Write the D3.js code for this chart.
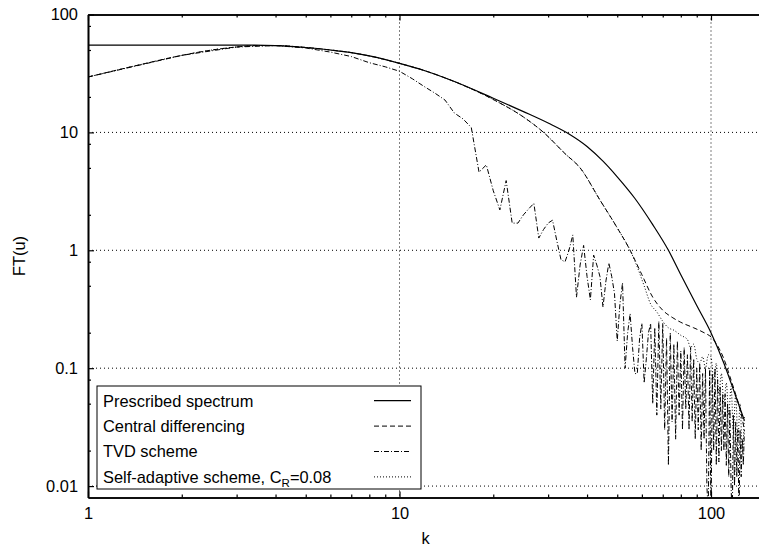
<!DOCTYPE html>
<html>
<head>
<meta charset="utf-8">
<script src="https://cdn.jsdelivr.net/npm/d3@7"></script>
<style>
body { margin: 0; background: #fff; }
svg { font-family: "Liberation Sans", Arial, sans-serif; }
</style>
</head>
<body>
<div id="chart"></div>
<script>
// Prescribed spectrum
var kPres = [1, 3.3, 4, 5, 6, 7, 8, 10, 12, 15, 20, 25, 30, 35, 40, 45, 50, 57, 65, 73, 80, 90, 100, 110, 120, 128];
var fPres = [55, 55, 54.5, 52.5, 50, 47.5, 44.5, 38.5, 33.5, 27, 19.5, 15, 12, 9.7, 7.6, 5.7, 4.2, 2.75, 1.65, 1.0, 0.62, 0.34, 0.2, 0.11, 0.058, 0.036];

// Central differencing
var kCent = [1, 1.5, 2, 2.5, 3, 3.5, 4, 5, 6, 7, 8, 10, 12, 15, 20, 25, 29, 34, 38, 44, 50, 55, 60, 65, 70, 75, 80, 88, 95, 100, 105, 110, 115, 120, 124, 128];
var fCent = [29.5, 38, 45, 50, 53, 54.5, 54.5, 52.5, 50, 47.5, 44.5, 38.5, 33.5, 27, 19, 13.5, 10, 6.6, 5.0, 2.67, 1.55, 1.0, 0.62, 0.40, 0.31, 0.27, 0.245, 0.22, 0.2, 0.184, 0.155, 0.12, 0.085, 0.06, 0.045, 0.03];

// TVD scheme, k = 1..128
var fTvd = [29.5, 45, 53, 54.5, 52, 48, 44, 39, 36, 33,
  28.5, 24.5, 21.5, 18.8, 14.6, 13, 11, 4.6, 5.3, 3.2,
  2.2, 3.9, 1.7, 1.7, 2.0, 2.25, 2.5, 1.27, 1.5, 1.7,
  1.8, 1.2, 0.83, 0.8, 1.0, 1.35, 0.4, 0.75, 1.1, 0.6,
  0.38, 0.91, 0.75, 0.6, 0.33, 0.55, 0.78, 0.6, 0.43, 0.17,
  0.35, 0.53, 0.1, 0.2, 0.29, 0.15, 0.09, 0.09, 0.18, 0.24,
  0.075, 0.12, 0.2, 0.24, 0.05, 0.22, 0.04, 0.25, 0.045, 0.24,
  0.03, 0.18, 0.015, 0.2, 0.035, 0.16, 0.025, 0.17, 0.04, 0.14,
  0.03, 0.15, 0.045, 0.13, 0.03, 0.15, 0.035, 0.12, 0.025, 0.1,
  0.03, 0.11, 0.02, 0.09, 0.025, 0.1, 0.01, 0.006, 0.1, 0.005,
  0.09, 0.02, 0.1, 0.015, 0.08, 0.016, 0.07, 0.02, 0.06, 0.02,
  0.06, 0.015, 0.05, 0.012, 0.045, 0.01, 0.005, 0.04, 0.01, 0.035,
  0.012, 0.03, 0.005, 0.03, 0.012, 0.025, 0.015, 0.03];

// Self-adaptive scheme
var kSelf = [1, 1.5, 2, 2.5, 3, 3.5, 4, 5, 6, 7, 8, 10, 12, 15, 20, 25, 29, 34, 38, 44, 50, 55, 58, 61, 64, 67, 70, 73, 76, 80, 84, 86, 88, 90, 92, 94, 96, 98, 100,
  102, 104, 106, 108, 110, 112, 114, 116, 118, 120, 122, 124, 126, 128];
var fSelf = [29.5, 38, 45, 50, 53, 54.5, 54.5, 52.5, 50, 47.5, 44.5, 38.5, 33.5, 27, 19, 13.5, 10, 6.6, 5.0, 2.67, 1.55, 1.0, 0.72, 0.5, 0.35, 0.3, 0.25, 0.22, 0.21, 0.19, 0.175, 0.15, 0.16, 0.12, 0.11, 0.125, 0.1, 0.13, 0.125,
  0.08, 0.11, 0.06, 0.09, 0.05, 0.075, 0.04, 0.07, 0.03, 0.06, 0.025, 0.05, 0.02, 0.04];

var seriesNames = ["Prescribed spectrum", "Central differencing", "TVD scheme", "Self-adaptive scheme, C"];
var xMajor = [1, 10, 100];
var xMinor = [2, 3, 4, 5, 6, 7, 8, 9, 20, 30, 40, 50, 60, 70, 80, 90];
var yMajor = [0.01, 0.1, 1, 10, 100];
var yMinor = [0.02, 0.05, 0.08, 0.2, 0.5, 0.8, 2, 5, 8, 20, 50, 80];
var xGrid = [10, 100];
var yGrid = [0.01, 0.1, 1, 10];

var W = 759, H = 546;
var mLeft = 88, mTop = 14.5, mBottom = 497.5;
var decade = 311.5;
var fontSize = "16.4px";

var svg = d3.select("#chart").append("svg")
  .attr("width", W)
  .attr("height", H);

var x = d3.scaleLog().domain([1, 145]).range([mLeft, mLeft + decade * Math.log10(145)]);
var y = d3.scaleLog().domain([0.008, 100]).range([mBottom, mTop]);

svg.append("defs").append("clipPath").attr("id", "clip")
  .append("rect")
  .attr("x", mLeft).attr("y", mTop)
  .attr("width", W - mLeft).attr("height", mBottom - mTop);

// grid
svg.selectAll(".gx").data(xGrid).enter().append("line")
  .attr("x1", function(d) { return x(d); }).attr("x2", function(d) { return x(d); })
  .attr("y1", mTop).attr("y2", mBottom)
  .attr("stroke", "#000").attr("stroke-width", 1).attr("stroke-dasharray", "1,3");
svg.selectAll(".gy").data(yGrid).enter().append("line")
  .attr("x1", mLeft).attr("x2", W)
  .attr("y1", function(d) { return y(d); }).attr("y2", function(d) { return y(d); })
  .attr("stroke", "#000").attr("stroke-width", 1).attr("stroke-dasharray", "1,3");

// lines
var line = d3.line()
  .x(function(d) { return x(d[0]); })
  .y(function(d) { return y(d[1]); });

var presData = kPres.map(function(k, i) { return [k, fPres[i]]; });
var centData = kCent.map(function(k, i) { return [k, fCent[i]]; });
var tvdData = fTvd.map(function(v, i) { return [i + 1, v]; });
var selfData = kSelf.map(function(k, i) { return [k, fSelf[i]]; });

var plot = svg.append("g").attr("clip-path", "url(#clip)");
var styles = [
  { data: presData, dash: null, curve: d3.curveMonotoneX, w: 1.2 },
  { data: centData, dash: "5,3", curve: d3.curveMonotoneX, w: 1 },
  { data: tvdData, dash: "5,2,1,2", curve: d3.curveLinear, w: 1 },
  { data: selfData, dash: "1,2", curve: d3.curveMonotoneX, w: 1 }
];
styles.forEach(function(s) {
  plot.append("path")
    .attr("d", line.curve(s.curve)(s.data))
    .attr("fill", "none")
    .attr("stroke", "#000")
    .attr("stroke-width", s.w)
    .attr("stroke-dasharray", s.dash);
});

// axes
function styleAxis(g) {
  g.select(".domain").attr("stroke-width", 1.6);
  g.selectAll(".tick line").attr("stroke-width", 1.2);
  g.selectAll("text").attr("font-size", fontSize).attr("font-family", "Liberation Sans, Arial, sans-serif").attr("fill", "#000");
}
svg.append("g").attr("transform", "translate(" + mLeft + ",0)")
  .call(d3.axisLeft(y).tickValues(yMajor).tickSizeInner(-6).tickSizeOuter(0).tickPadding(10)
    .tickFormat(function(d) { return d3.format("~g")(d); }))
  .call(styleAxis);
svg.append("g").attr("transform", "translate(" + mLeft + ",0)")
  .call(d3.axisLeft(y).tickValues(yMinor).tickSizeInner(-3).tickSizeOuter(0).tickFormat(""))
  .call(styleAxis);
svg.append("g").attr("transform", "translate(0," + mBottom + ")")
  .call(d3.axisBottom(x).tickValues(xMajor).tickSizeInner(-6).tickSizeOuter(0).tickPadding(10)
    .tickFormat(function(d) { return d3.format("~g")(d); }))
  .call(styleAxis);
svg.append("g").attr("transform", "translate(0," + mBottom + ")")
  .call(d3.axisBottom(x).tickValues(xMinor).tickSizeInner(-3).tickSizeOuter(0).tickFormat(""))
  .call(styleAxis);
svg.append("g").attr("transform", "translate(0," + mTop + ")")
  .call(d3.axisTop(x).tickValues(xMajor).tickSizeInner(-6).tickSizeOuter(0).tickFormat(""))
  .call(styleAxis);
svg.append("g").attr("transform", "translate(0," + mTop + ")")
  .call(d3.axisTop(x).tickValues(xMinor).tickSizeInner(-3).tickSizeOuter(0).tickFormat(""))
  .call(styleAxis);

// axis titles
svg.append("text")
  .attr("x", (mLeft + W) / 2 + 2).attr("y", 544)
  .attr("text-anchor", "middle").attr("font-size", fontSize)
  .text("k");
svg.append("text")
  .attr("transform", "translate(25," + ((mTop + mBottom) / 2) + ") rotate(-90)")
  .attr("text-anchor", "middle").attr("font-size", fontSize)
  .text("FT(u)");

// legend
var lg = svg.append("g");
lg.append("rect")
  .attr("x", 97).attr("y", 386).attr("width", 324).attr("height", 103)
  .attr("fill", "#fff").attr("stroke", "#000").attr("stroke-width", 1);
seriesNames.forEach(function(name, i) {
  var cy = 400.7 + i * 25.4;
  var t = lg.append("text")
    .attr("x", 103).attr("y", cy + 5.8)
    .attr("font-size", fontSize)
    .text(name);
  if (i === 3) {
    t.append("tspan").attr("dy", 4).attr("font-size", "11.5px").text("R");
    t.append("tspan").attr("dy", -4).text("=0.08");
  }
  lg.append("line")
    .attr("x1", 374).attr("x2", 411)
    .attr("y1", cy).attr("y2", cy)
    .attr("stroke", "#000")
    .attr("stroke-width", styles[i].w)
    .attr("stroke-dasharray", styles[i].dash);
});
</script>
</body>
</html>
